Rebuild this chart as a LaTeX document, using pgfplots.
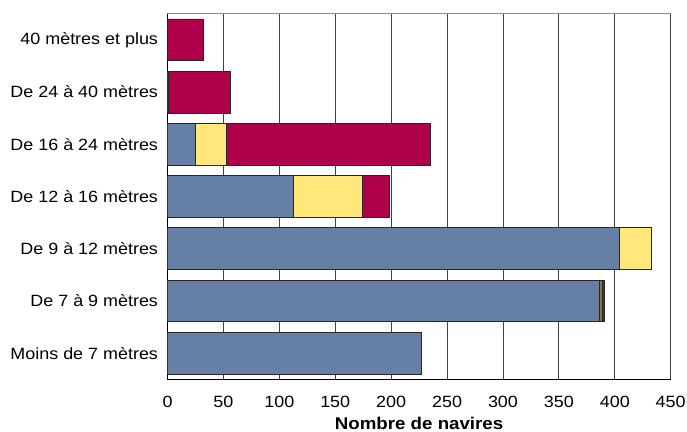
\documentclass[border=0pt]{standalone}
\usepackage{pgfplots}
\pgfplotsset{compat=1.18}
\usepackage{fontspec}
\setmainfont{Liberation Sans}[FakeStretch=1.1]
\definecolor{cblue}{HTML}{657FA5}
\definecolor{cyellow}{HTML}{FFE77A}
\definecolor{cbrown}{HTML}{8B7536}
\definecolor{ccrimson}{HTML}{AF004B}
\begin{document}
\begin{tikzpicture}
\begin{axis}[
  name=ax,
  scale only axis,
  width=503.2bp, height=365.6bp,
  xbar stacked,
  bar width=0.8,
  xmin=0, xmax=450,
  ymin=-0.5, ymax=6.5,
  xtick={0,50,...,450},
  ytick={0,...,6},
  yticklabels={Moins de 7 mètres, De 7 à 9 mètres, De 9 à 12 mètres, De 12 à 16 mètres, De 16 à 24 mètres, De 24 à 40 mètres, 40 mètres et plus},
  axis lines=left,
  axis line style={-, black, line width=0.9bp},
  major tick length=0pt,
  xmajorgrids=true,
  major grid style={black!75, line width=0.9bp},
  extra y ticks={6.5},
  extra y tick labels={},
  extra y tick style={grid=major, major grid style={black!45, line width=1.2bp}},
  /pgf/number format/assume math mode=true,
  ticklabel style={font=\fontsize{16.3bp}{19bp}\selectfont},
  yticklabel style={xshift=-6bp},
  xticklabel style={yshift=-13bp},
  xlabel={Nombre de navires},
  xlabel style={font=\bfseries\fontsize{17bp}{20bp}\selectfont, yshift=-3bp},
  every axis plot/.append style={draw=black!85, line width=0.8bp},
]
\addplot[fill=cblue] coordinates {(227,0) (386.5,1) (404,2) (113,3) (25,4) (1,5) (0,6)};
\addplot[fill=cyellow] coordinates {(0,0) (0,1) (29,2) (61,3) (28,4) (0,5) (0,6)};
\addplot[fill=cbrown] coordinates {(0,0) (2.5,1) (0,2) (0,3) (0,4) (0,5) (0,6)};
\addplot[fill=ccrimson] coordinates {(0,0) (2,1) (0,2) (24,3) (182,4) (55,5) (32,6)};
\end{axis}
\pgfresetboundingbox
\path[use as bounding box] (ax.south west) ++(-167.5bp,-52.7bp) rectangle ++(687bp,432bp);
\end{tikzpicture}
\end{document}
